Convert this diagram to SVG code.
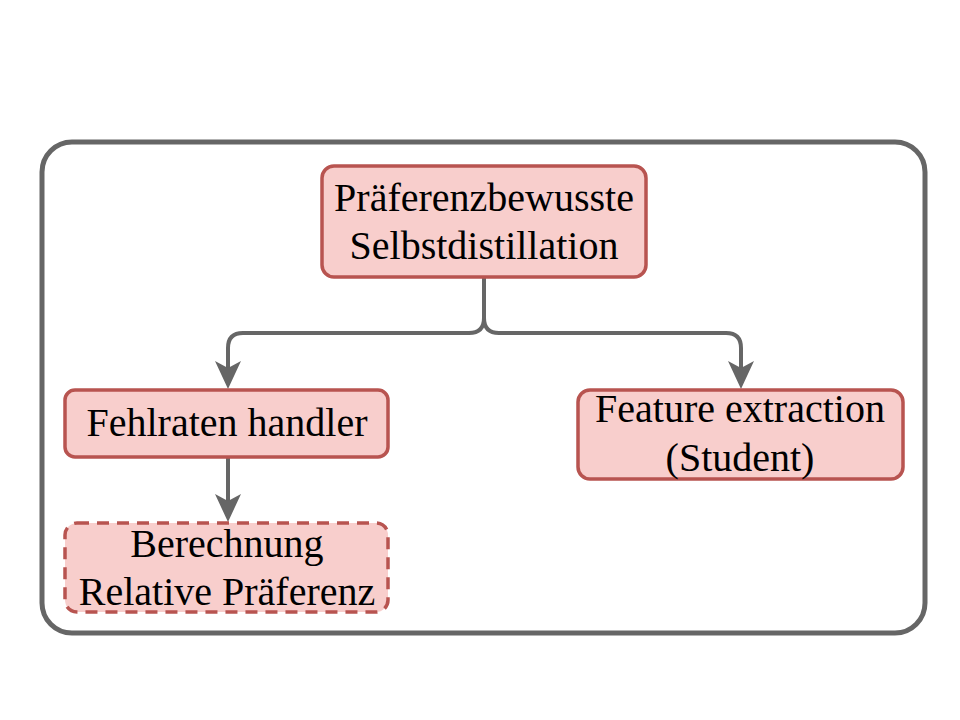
<svg xmlns="http://www.w3.org/2000/svg" width="960" height="720" viewBox="0 0 960 720">
<style>
.node{fill:#f8cecc;stroke:#b85450;stroke-width:3.5}
.dash{stroke-dasharray:12 8}
.lbl{font-family:"Liberation Serif","Times New Roman",serif;font-size:40px;fill:#000;text-anchor:middle}
.edge{fill:none;stroke:#666;stroke-width:4}
</style>
<rect width="960" height="720" fill="#fff"/>
<g id="container"><rect x="42" y="142" width="883" height="491" rx="30" fill="none" stroke="#666" stroke-width="5"/></g>
<g id="connectors">
<path class="edge" d="M484,277 V318 Q484,333 469,333 H243 Q228,333 228,348 V374"/>
<path class="edge" d="M484,277 V318 Q484,333 499,333 H726 Q741,333 741,348 V374"/>
<path class="edge" d="M228,457 V508"/>
<path d="M215,361 L228,389 L241,361 L228,368 Z" fill="#666"/>
<path d="M728,361 L741,389 L754,361 L741,368 Z" fill="#666"/>
<path d="M215,494 L228,522 L241,494 L228,501 Z" fill="#666"/>
</g>
<g id="n1"><rect class="node" x="322" y="166" width="324" height="111" rx="12"/>
<text class="lbl" x="484" y="211">Präferenzbewusste</text><text class="lbl" x="484" y="259">Selbstdistillation</text></g>
<g id="n2"><rect class="node" x="65" y="390" width="323" height="67" rx="10"/>
<text class="lbl" x="227" y="436">Fehlraten handler</text></g>
<g id="n3"><rect class="node dash" x="65" y="523" width="323" height="89" rx="12"/>
<text class="lbl" x="227" y="557">Berechnung</text><text class="lbl" x="227" y="605">Relative Präferenz</text></g>
<g id="n4"><rect class="node" x="578" y="390" width="325" height="89" rx="12"/>
<text class="lbl" x="740" y="422">Feature extraction</text><text class="lbl" x="740" y="471">(Student)</text></g>
</svg>
